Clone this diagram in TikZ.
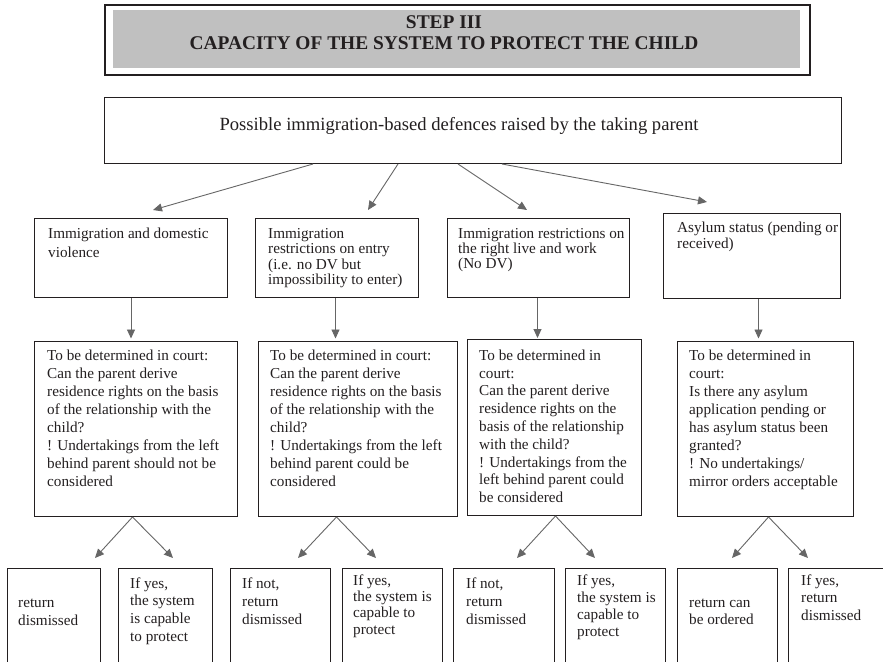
\documentclass[tikz,border=0pt]{standalone}
\usepackage{fontspec}
\setmainfont{Liberation Serif}
\usetikzlibrary{arrows.meta}
\definecolor{ink}{HTML}{231F20}
\definecolor{arrowgray}{HTML}{666666}
\definecolor{bandgray}{HTML}{C0C0C0}
\newcommand{\bodysize}[1]{\fontsize{15.2}{#1}\selectfont}
% fixed first-line height, so a text node's top edge lies 11pt above its first baseline
\newcommand{\fl}{\rule{0pt}{11pt}}
\begin{document}
\begin{tikzpicture}[x=1pt,y=-1pt,
  frame/.style={draw=ink, line width=1pt, inner sep=0pt, anchor=north west},
  txt/.style={anchor=north west, inner sep=0pt, align=left, text=ink, font=\bodysize{18}},
  arr/.style={draw=arrowgray, line width=0.9pt, -{Triangle[length=9pt,width=8pt]}}
]
\clip (0,0) rectangle (883,661);
\fill[white] (0,0) rectangle (883,661);

% title band
\node[frame, line width=1.6pt, minimum width=705pt, minimum height=70pt] (head) at (104,4) {};
\node[fill=bandgray, inner sep=0pt, anchor=north west, minimum width=687pt, minimum height=58pt] (band) at (113,10) {};
\node[font=\fontsize{19.4}{20}\selectfont\bfseries, text=ink, inner sep=0pt, anchor=base] (headA) at (444,29) {STEP III};
\node[font=\fontsize{19.4}{20}\selectfont\bfseries, text=ink, inner sep=0pt, anchor=base] (headB) at (444,49) {CAPACITY OF THE SYSTEM TO PROTECT THE CHILD};

% root
\node[frame, minimum width=737pt, minimum height=66pt] (top) at (104,97) {};
\node[font=\fontsize{18.6}{20}\selectfont, text=ink, inner sep=0pt, anchor=base] (topt) at (459,130) {Possible immigration-based defences raised by the taking parent};

% first level
\node[frame, minimum width=193pt, minimum height=79pt] (l1a) at (34,218) {};
\node[frame, minimum width=163pt, minimum height=79pt] (l1b) at (255,218) {};
\node[frame, minimum width=182pt, minimum height=79pt] (l1c) at (447,218) {};
\node[frame, minimum width=177pt, minimum height=85pt] (l1d) at (663,213) {};
\node[txt, font=\bodysize{19}] (l1at) at (48,227) {\fl Immigration and domestic\\violence};
\node[txt, font=\bodysize{15.4}] (l1bt) at (268,227) {\fl Immigration\\restrictions on entry\\(i.e. no DV but\\impossibility to enter)};
\node[txt, font=\bodysize{15.2}] (l1ct) at (458,227) {\fl Immigration restrictions on\\the right live and work\\(No DV)};
\node[txt, font=\bodysize{16}] (l1dt) at (677,221) {\fl Asylum status (pending or\\received)};

% second level
\node[frame, minimum width=203pt, minimum height=175pt] (l2a) at (34,341) {};
\node[frame, minimum width=199pt, minimum height=175pt] (l2b) at (258,341) {};
\node[frame, minimum width=174pt, minimum height=176pt] (l2c) at (467,339) {};
\node[frame, minimum width=176pt, minimum height=175pt] (l2d) at (677,341) {};
\node[txt] (l2at) at (47,349) {\fl To be determined in court:\\Can the parent derive\\residence rights on the basis\\of the relationship with the\\child?\\! Undertakings from the left\\behind parent should not be\\considered};
\node[txt] (l2bt) at (270,349) {\fl To be determined in court:\\Can the parent derive\\residence rights on the basis\\of the relationship with the\\child?\\! Undertakings from the left\\behind parent could be\\considered};
\node[txt, font=\bodysize{17.8}] (l2ct) at (479,349) {\fl To be determined in\\court:\\Can the parent derive\\residence rights on the\\basis of the relationship\\with the child?\\! Undertakings from the\\left behind parent could\\be considered};
\node[txt] (l2dt) at (689,349) {\fl To be determined in\\court:\\Is there any asylum\\application pending or\\has asylum status been\\granted?\\! No undertakings/\\mirror orders acceptable};

% outcomes
\node[frame, minimum width=93pt, minimum height=132pt] (o1) at (7,568) {};
\node[frame, minimum width=94pt, minimum height=132pt] (o2) at (118,568) {};
\node[frame, minimum width=100pt, minimum height=132pt] (o3) at (230,568) {};
\node[frame, minimum width=100pt, minimum height=132pt] (o4) at (342,568) {};
\node[frame, minimum width=101pt, minimum height=132pt] (o5) at (453,568) {};
\node[frame, minimum width=100pt, minimum height=132pt] (o6) at (565,568) {};
\node[frame, minimum width=100pt, minimum height=132pt] (o7) at (677,568) {};
\node[frame, minimum width=102pt, minimum height=132pt] (o8) at (788,568) {};
\node[txt] (o1t) at (18,596) {\fl return\\dismissed};
\node[txt, font=\bodysize{17.7}] (o2t) at (130,577) {\fl If yes,\\the system\\is capable\\to protect};
\node[txt] (o3t) at (242,577) {\fl If not,\\return\\dismissed};
\node[txt, font=\bodysize{16.3}] (o4t) at (353,574) {\fl If yes,\\the system is\\capable to\\protect};
\node[txt] (o5t) at (466,577) {\fl If not,\\return\\dismissed};
\node[txt, font=\bodysize{17}] (o6t) at (577,574) {\fl If yes,\\the system is\\capable to\\protect};
\node[txt, font=\bodysize{17}] (o7t) at (689,596) {\fl return can\\be ordered};
\node[txt, font=\bodysize{17.5}] (o8t) at (801,574) {\fl If yes,\\return\\dismissed};

% connectors from the root
\coordinate (r1) at (153,210);
\coordinate (r2) at (368,210);
\coordinate (r3) at (527,210);
\coordinate (r4) at (707,202);
\draw[arr] ([xshift=209pt]top.south west) -- (r1);
\draw[arr] ([xshift=294pt]top.south west) -- (r2);
\draw[arr] ([xshift=354pt]top.south west) -- (r3);
\draw[arr] ([xshift=398pt]top.south west) -- (r4);

% first to second level
\draw[arr, shorten >=2.5pt] (l1a.south) -- (l1a.south |- l2a.north);
\draw[arr, shorten >=2.5pt] ([xshift=-1.5pt]l1b.south) -- ([xshift=-1.5pt]l1b.south |- l2b.north);
\draw[arr, shorten >=1pt] ([xshift=-1pt]l1c.south) -- ([xshift=-1pt]l1c.south |- l2c.north);
\draw[arr, shorten >=2.5pt] ([xshift=6.5pt]l1d.south) -- ([xshift=6.5pt]l1d.south |- l2d.north);

% second level to outcomes
\coordinate (d1) at (95,558);
\coordinate (d2) at (173,558);
\coordinate (d3) at (298,558);
\coordinate (d4) at (376,558);
\coordinate (d5) at (517,558);
\coordinate (d6) at (595,558);
\coordinate (d7) at (732,558);
\coordinate (d8) at (808,558);
\draw[arr] ([xshift=-3.5pt]l2a.south) -- (d1);
\draw[arr] ([xshift=-3.5pt]l2a.south) -- (d2);
\draw[arr] ([xshift=-21.5pt]l2b.south) -- (d3);
\draw[arr] ([xshift=-21.5pt]l2b.south) -- (d4);
\draw[arr] ([xshift=1pt]l2c.south) -- (d5);
\draw[arr] ([xshift=1pt]l2c.south) -- (d6);
\draw[arr] ([xshift=3pt]l2d.south) -- (d7);
\draw[arr] ([xshift=3pt]l2d.south) -- (d8);
\end{tikzpicture}
\end{document}
